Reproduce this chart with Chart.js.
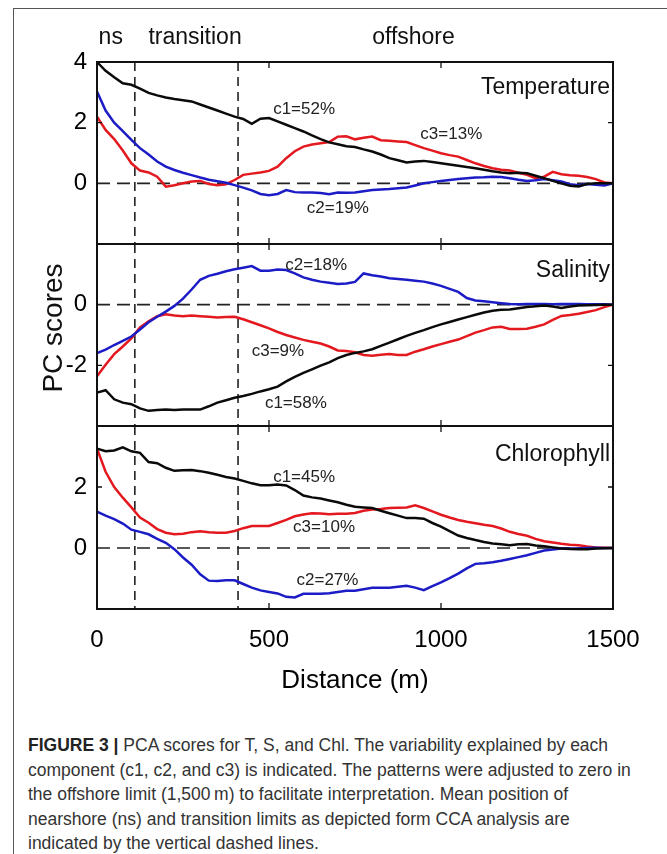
<!DOCTYPE html>
<html>
<head>
<meta charset="utf-8">
<script src="https://cdn.jsdelivr.net/npm/chart.js@4.4.1/dist/chart.umd.min.js"></script>
<style>
  body { margin: 0; background: #fff; }
  #fig { position: relative; width: 667px; height: 854px; overflow: hidden; background: #fff;
         font-family: "Liberation Sans", Arial, sans-serif; }
  #frame { position: absolute; left: 13px; top: 8px; right: -4px; bottom: -4px;
           border-left: 1.5px solid #555; border-top: 1.5px solid #555; }
  canvas { position: absolute; left: 0; }
  #caption { position: absolute; left: 28px; top: 733px; font-size: 17.5px; line-height: 24.5px;
             color: #333; white-space: nowrap; }
  #caption b { color: #222; }
</style>
</head>
<body>
<div id="fig">
  <div id="frame"></div>
  <canvas id="cT" width="667" height="250" style="top:0px"></canvas>
  <canvas id="cS" width="667" height="194" style="top:238px"></canvas>
  <canvas id="cC" width="667" height="290" style="top:420px"></canvas>
  <div id="caption"><b>FIGURE 3 |</b> PCA scores for T, S, and Chl. The variability explained by each<br>component (c1, c2, and c3) is indicated. The patterns were adjusted to zero in<br>the offshore limit (1,500&thinsp;m) to facilitate interpretation. Mean position of<br>nearshore (ns) and transition limits as depicted form CCA analysis are<br>indicated by the vertical dashed lines.</div>
</div>
<script>
// distance along the transect (m), one sample every 25 m
const distance = [
  0, 25, 50, 75, 100, 125, 150, 175, 200, 225,
  250, 275, 300, 325, 350, 375, 400, 425, 450, 475,
  500, 525, 550, 575, 600, 625, 650, 675, 700, 725,
  750, 775, 800, 825, 850, 875, 900, 925, 950, 975,
  1000, 1025, 1050, 1075, 1100, 1125, 1150, 1175, 1200, 1225,
  1250, 1275, 1300, 1325, 1350, 1375, 1400, 1425, 1450, 1475,
  1500
];
// ns / transition limits (vertical dashed lines)
const zoneLimits = [110, 410];
const distanceTicks = [0, 500, 1000, 1500];

// Temperature
const tempC1 = [
  4.0, 3.71, 3.5, 3.3, 3.25, 3.12, 2.98, 2.9, 2.83, 2.78,
  2.74, 2.7, 2.6, 2.5, 2.4, 2.3, 2.2, 2.12, 1.96, 2.13,
  2.15, 2.04, 1.93, 1.82, 1.71, 1.58, 1.46, 1.35, 1.29, 1.22,
  1.2, 1.12, 1.05, 0.95, 0.83, 0.76, 0.69, 0.72, 0.74, 0.7,
  0.66, 0.62, 0.58, 0.54, 0.5, 0.45, 0.4, 0.36, 0.33, 0.35,
  0.33, 0.25, 0.17, 0.08, 0.0, -0.08, -0.1, -0.02, 0.0, 0.0,
  0
];
const tempC2 = [
  3.03, 2.4, 2.0, 1.72, 1.43, 1.16, 0.95, 0.72, 0.55, 0.44,
  0.35, 0.27, 0.19, 0.12, 0.07, 0.02, -0.06, -0.14, -0.23, -0.35,
  -0.39, -0.35, -0.22, -0.29, -0.3, -0.3, -0.32, -0.36, -0.3, -0.31,
  -0.3, -0.26, -0.22, -0.2, -0.19, -0.16, -0.14, -0.07, 0.0, 0.04,
  0.08, 0.11, 0.14, 0.17, 0.19, 0.2, 0.22, 0.21, 0.17, 0.12,
  0.08, 0.1, 0.14, 0.1, 0.06, -0.03, -0.06, -0.02, -0.05, -0.07,
  0
];
const tempC3 = [
  2.2, 1.76, 1.46, 1.08, 0.66, 0.42, 0.36, 0.22, -0.11, -0.06,
  0.0, 0.06, 0.08, -0.02, -0.06, -0.03, 0.11, 0.28, 0.32, 0.36,
  0.41, 0.55, 0.83, 1.06, 1.21, 1.28, 1.32, 1.36, 1.54, 1.55,
  1.45, 1.5, 1.54, 1.42, 1.4, 1.38, 1.36, 1.26, 1.16, 1.08,
  0.99, 0.93, 0.88, 0.77, 0.66, 0.57, 0.5, 0.45, 0.42, 0.35,
  0.28, 0.17, 0.22, 0.38, 0.3, 0.27, 0.25, 0.21, 0.14, 0.03,
  0
];

// Salinity
const salC1 = [
  -2.9, -2.82, -3.12, -3.23, -3.28, -3.42, -3.5, -3.47, -3.46, -3.47,
  -3.46, -3.46, -3.46, -3.35, -3.23, -3.15, -3.07, -3.01, -2.94, -2.86,
  -2.79, -2.7, -2.53, -2.38, -2.25, -2.13, -2.01, -1.9, -1.76, -1.66,
  -1.59, -1.54, -1.47, -1.36, -1.25, -1.14, -1.03, -0.93, -0.84, -0.74,
  -0.65, -0.57, -0.49, -0.41, -0.33, -0.26, -0.2, -0.17, -0.16, -0.12,
  -0.08, -0.05, -0.03, -0.06, -0.11, -0.06, -0.03, -0.02, -0.01, 0,
  0
];
const salC2 = [
  -1.6, -1.48, -1.33, -1.19, -1.05, -0.82, -0.58, -0.4, -0.23, -0.04,
  0.2, 0.5, 0.82, 0.95, 1.02, 1.1, 1.17, 1.22, 1.27, 1.12,
  1.12, 1.16, 1.14, 1.03, 0.9, 0.82, 0.76, 0.72, 0.68, 0.7,
  0.75, 1.03, 0.97, 0.93, 0.87, 0.85, 0.82, 0.79, 0.76, 0.7,
  0.62, 0.52, 0.42, 0.22, 0.14, 0.11, 0.08, 0.05, 0.02, 0.01,
  0.02, 0.02, 0.02, 0.01, 0.02, 0.02, 0.02, 0.01, 0.01, 0.01,
  0
];
const salC3 = [
  -2.36, -1.98, -1.63, -1.38, -1.11, -0.75, -0.55, -0.38, -0.32, -0.36,
  -0.38, -0.36, -0.38, -0.4, -0.42, -0.41, -0.4, -0.48, -0.58, -0.68,
  -0.78, -0.9, -1.0, -1.08, -1.16, -1.22, -1.28, -1.38, -1.51, -1.53,
  -1.57, -1.66, -1.68, -1.65, -1.63, -1.66, -1.66, -1.55, -1.47, -1.38,
  -1.3, -1.22, -1.15, -1.04, -0.92, -0.84, -0.75, -0.73, -0.8, -0.8,
  -0.79, -0.73, -0.65, -0.5, -0.37, -0.34, -0.3, -0.24, -0.18, -0.08,
  0
];

// Chlorophyll
const chlC1 = [
  3.26, 3.17, 3.2, 3.3, 3.17, 3.12, 2.82, 2.78, 2.63, 2.53,
  2.55, 2.56, 2.52, 2.47, 2.4, 2.33, 2.28, 2.2, 2.12, 2.06,
  2.06, 2.08, 2.05, 1.9, 1.72, 1.66, 1.62, 1.56, 1.5, 1.42,
  1.35, 1.33, 1.31, 1.22, 1.14, 1.06, 0.98, 0.98, 0.96, 0.82,
  0.7, 0.55, 0.41, 0.33, 0.26, 0.2, 0.15, 0.12, 0.09, 0.12,
  0.13, 0.08, 0.06, 0.02, -0.02, -0.03, -0.04, -0.04, -0.02, -0.01,
  0
];
const chlC2 = [
  1.19, 1.06, 0.95, 0.8, 0.6, 0.53, 0.45, 0.3, 0.17, -0.04,
  -0.31, -0.55, -0.86, -1.07, -1.08, -1.06, -1.06, -1.18, -1.3, -1.39,
  -1.44, -1.49, -1.6, -1.62, -1.5, -1.5, -1.5, -1.48, -1.44, -1.4,
  -1.4, -1.35, -1.3, -1.3, -1.3, -1.27, -1.24, -1.3, -1.38, -1.25,
  -1.13, -0.99, -0.84, -0.67, -0.52, -0.5, -0.47, -0.42, -0.36, -0.3,
  -0.24, -0.16, -0.08, -0.05, -0.02, -0.02, -0.02, 0.0, 0.01, 0,
  0
];
const chlC3 = [
  3.26, 2.5, 2.0, 1.65, 1.33, 1.0, 0.83, 0.62, 0.5, 0.45,
  0.47, 0.52, 0.55, 0.52, 0.5, 0.5, 0.56, 0.65, 0.72, 0.72,
  0.72, 0.82, 0.92, 1.04, 1.1, 1.14, 1.13, 1.11, 1.12, 1.12,
  1.15, 1.22, 1.26, 1.28, 1.31, 1.32, 1.33, 1.4, 1.31, 1.2,
  1.09, 1.0, 0.92, 0.86, 0.81, 0.76, 0.72, 0.64, 0.53, 0.46,
  0.4, 0.3, 0.22, 0.18, 0.14, 0.11, 0.09, 0.05, 0.02, 0.01,
  0
];

const BLACK = '#0a0a0a', BLUE = '#1c1cc6', RED = '#e3191f';
const FONT = '"Liberation Sans", Arial, sans-serif';
Chart.defaults.font.family = FONT;
Chart.defaults.color = '#000';

// frame, dashed lines, ticks and in-plot text for each panel
const panelDeco = {
  id: 'panelDeco',
  beforeDatasetsDraw(chart, args, o) {
    const { ctx, chartArea: a, scales: { x, y } } = chart;
    ctx.save();
    ctx.strokeStyle = '#222';
    ctx.lineWidth = 1.6;
    ctx.setLineDash([13, 7]);
    const y0 = y.getPixelForValue(0);
    ctx.beginPath(); ctx.moveTo(a.left, y0); ctx.lineTo(a.right, y0); ctx.stroke();
    ctx.setLineDash([9, 6]);
    zoneLimits.forEach(d => {
      const px = x.getPixelForValue(d);
      ctx.beginPath(); ctx.moveTo(px, a.top); ctx.lineTo(px, a.bottom); ctx.stroke();
    });
    ctx.restore();
  },
  afterDatasetsDraw(chart, args, o) {
    const { ctx, chartArea: a, scales: { x, y } } = chart;
    ctx.save();
    ctx.strokeStyle = '#111';
    ctx.lineWidth = 2;
    ctx.strokeRect(a.left, a.top, a.right - a.left, a.bottom - a.top);
    ctx.lineWidth = 1.3;
    ctx.beginPath();
    distanceTicks.slice(1, -1).forEach(d => {
      const px = x.getPixelForValue(d);
      ctx.moveTo(px, a.top); ctx.lineTo(px, a.top + 6);
      ctx.moveTo(px, a.bottom); ctx.lineTo(px, a.bottom - 6);
    });
    o.yMarks.forEach(v => {
      const py = y.getPixelForValue(v);
      ctx.moveTo(a.left, py); ctx.lineTo(a.left + 5, py);
      ctx.moveTo(a.right, py); ctx.lineTo(a.right - 5, py);
    });
    ctx.stroke();

    ctx.fillStyle = '#111';
    ctx.textBaseline = 'middle';
    ctx.font = '23px ' + FONT;
    ctx.textAlign = 'right';
    ctx.fillText(o.name, a.right - 3, a.top + o.nameDy);

    ctx.textAlign = 'center';
    ctx.font = '17px ' + FONT;
    ctx.fillStyle = '#222';
    o.notes.forEach(([t, d, v]) => ctx.fillText(t, x.getPixelForValue(d), y.getPixelForValue(v)));

    ctx.fillStyle = '#111';
    if (o.header) {
      ctx.font = '23px ' + FONT;
      o.header.forEach(([t, d]) => ctx.fillText(t, x.getPixelForValue(d), a.top - 24));
    }
    if (o.yTitle) {
      ctx.font = '28px ' + FONT;
      ctx.translate(a.left - 43, (a.top + a.bottom) / 2 - 7);
      ctx.rotate(-Math.PI / 2);
      ctx.fillText(o.yTitle, 0, 0);
    }
    ctx.restore();
  }
};

function pts(vals) {
  return distance.map((d, i) => ({ x: d, y: vals[i] }));
}

function makePanel(id, p) {
  const xScale = p.bottom ? {
    type: 'linear', min: 0, max: 1500,
    grid: { display: false, drawTicks: false }, border: { display: false },
    afterBuildTicks(s) { s.ticks = distanceTicks.map(v => ({ value: v })); },
    ticks: { padding: 17, maxRotation: 0, font: { size: 24 }, color: '#000',
             callback: v => String(v) },
    title: { display: true, text: 'Distance (m)', font: { size: 26 }, color: '#000',
             padding: { top: 0, bottom: 14 } },
    afterFit(s) { s.height = 101; s.paddingLeft = 0; s.paddingRight = 0; }
  } : { type: 'linear', min: 0, max: 1500, display: false };

  return new Chart(document.getElementById(id), {
    type: 'line',
    data: {
      datasets: [
        { label: 'c1', data: pts(p.c1), borderColor: BLACK, clip: false },
        { label: 'c2', data: pts(p.c2), borderColor: BLUE, clip: false },
        { label: 'c3', data: pts(p.c3), borderColor: RED, clip: false }
      ]
    },
    options: {
      responsive: false,
      animation: false,
      events: [],
      layout: { padding: p.padding },
      elements: { point: { radius: 0 }, line: { borderWidth: 2.5, tension: 0 } },
      plugins: { legend: { display: false }, tooltip: { enabled: false }, panelDeco: p.deco },
      scales: {
        x: xScale,
        y: {
          min: p.yMin, max: p.yMax,
          grid: { display: false, drawTicks: false }, border: { display: false },
          ticks: {
            stepSize: 2, padding: 10, font: { size: 24 }, color: '#000',
            callback: v => (p.yLabels.includes(v) ? String(v) : '')
          },
          afterFit(s) { s.width = 97; s.paddingTop = 0; s.paddingBottom = 0; }
        }
      }
    },
    plugins: [panelDeco]
  });
}

makePanel('cT', {
  c1: tempC1, c2: tempC2, c3: tempC3, yMin: -2, yMax: 4, yLabels: [4, 2, 0],
  padding: { top: 62, bottom: 6, left: 0, right: 54 },
  deco: {
    name: 'Temperature', nameDy: 26, yMarks: [2],
    notes: [['c1=52%', 602, 2.45], ['c3=13%', 1030, 1.6], ['c2=19%', 700, -0.82]],
    header: [['ns', 40], ['transition', 285], ['offshore', 920]]
  }
});
makePanel('cS', {
  c1: salC1, c2: salC2, c3: salC3, yMin: -4, yMax: 2, yLabels: [0, -2],
  padding: { top: 6, bottom: 6, left: 0, right: 54 },
  deco: {
    name: 'Salinity', nameDy: 27, yMarks: [-2],
    notes: [['c2=18%', 637, 1.31], ['c3=9%', 526, -1.54], ['c1=58%', 578, -3.25]],
    yTitle: 'PC scores'
  }
});
makePanel('cC', {
  c1: chlC1, c2: chlC2, c3: chlC3, yMin: -2, yMax: 4, yLabels: [2, 0], bottom: true,
  padding: { top: 6, bottom: 0, left: 0, right: 54 },
  deco: {
    name: 'Chlorophyll', nameDy: 29, yMarks: [2],
    notes: [['c1=45%', 602, 2.33], ['c3=10%', 660, 0.67], ['c2=27%', 670, -1.06]]
  }
});
</script>
</body>
</html>
